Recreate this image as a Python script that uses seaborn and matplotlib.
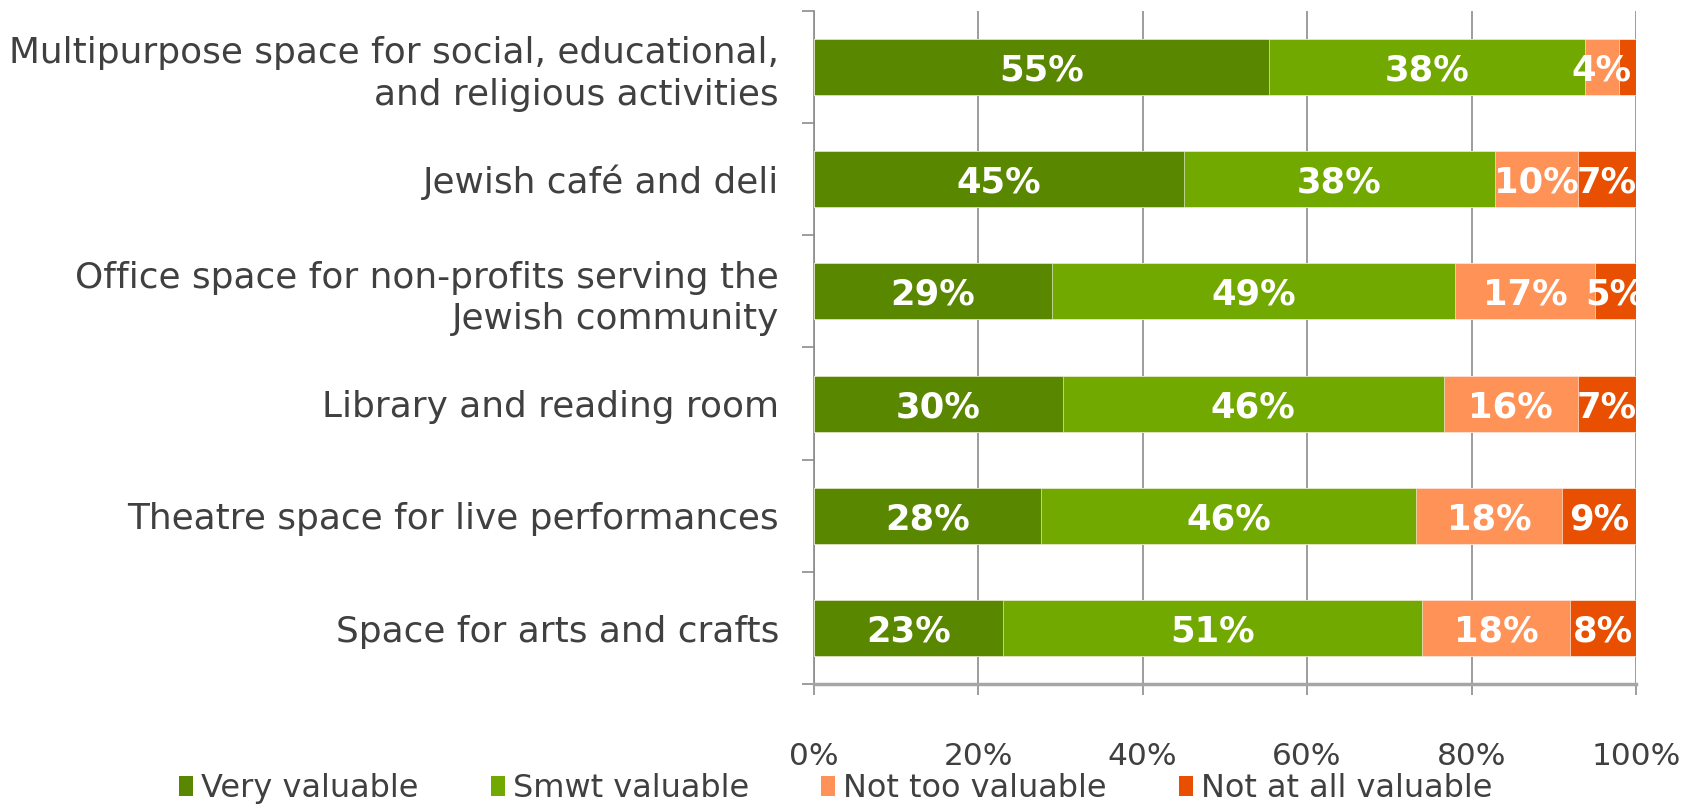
import numpy as np
import pandas as pd
import seaborn as sns
import matplotlib.pyplot as plt
from matplotlib.patches import Patch
from matplotlib.ticker import FixedLocator, PercentFormatter

# Data (percent of respondents)
categories = [
    "Multipurpose space for social, educational,\nand religious activities",
    "Jewish café and deli",
    "Office space for non-profits serving the\nJewish community",
    "Library and reading room",
    "Theatre space for live performances",
    "Space for arts and crafts",
]
very = [55.4, 45.0, 29.0, 30.3, 27.7, 23.0]
smwt = [38.4, 37.9, 49.0, 46.3, 45.6, 51.0]
not_too = [4.1, 10.0, 17.0, 16.3, 17.7, 18.0]
not_at_all = [2.1, 7.1, 5.0, 7.1, 9.0, 8.0]

series_names = ["Very valuable", "Smwt valuable", "Not too valuable", "Not at all valuable"]
colors = ["#5A8700", "#72A900", "#FF9257", "#E84F00"]
TEXT = "#404040"
GRID = "#8C8C8C"

sns.set_theme(style="white")
plt.rcParams['font.family'] = ['DejaVu Sans']

df = pd.DataFrame({"category": categories, series_names[0]: very,
                   series_names[1]: smwt, series_names[2]: not_too,
                   series_names[3]: not_at_all})
cum = df[series_names].cumsum(axis=1)

fig = plt.figure(figsize=(16.92, 8.10), dpi=100)
ax = fig.add_axes([0.4809, 0.1554, 0.4860, 0.8313])

# Stacked bars: draw cumulative totals from the right-most series back
for name, col in reversed(list(zip(series_names, colors))):
    sns.barplot(x=cum[name], y=df["category"], orient="h", color=col,
                width=0.5, saturation=1, ax=ax, zorder=3,
                edgecolor="white", linewidth=0.4)

# Segment labels
for i in range(len(categories)):
    left = 0
    for name in series_names:
        v = df[name].iloc[i]
        if v >= 3:
            ax.text(left + v / 2, i, f"{round(v):.0f}%", ha="center",
                    va="center_baseline", color="white", fontsize=25.5,
                    fontweight="bold", zorder=5)
        left += v

ax.set_xlim(0, 100)
ax.set_ylim(len(categories) - 0.5, -0.5)
ax.set_xlabel("")
ax.set_ylabel("")

ax.xaxis.set_major_locator(FixedLocator([0, 20, 40, 60, 80, 100]))
ax.xaxis.set_major_formatter(PercentFormatter(decimals=0))
ax.xaxis.grid(True, color=GRID, linewidth=1.2, zorder=0)
ax.set_axisbelow(True)

ax.tick_params(axis="x", which="major", direction="out", length=8, width=1.2,
               color=GRID, labelsize=22.5, labelcolor=TEXT, pad=34, bottom=True)
ax.yaxis.set_minor_locator(FixedLocator(np.arange(-0.5, len(categories), 1)))
ax.tick_params(axis="y", which="major", length=0, labelsize=25.8, labelcolor=TEXT, pad=25)
ax.tick_params(axis="y", which="minor", direction="out", length=9, width=1.2,
               color=GRID, left=True)
for lbl in ax.get_yticklabels():
    lbl.set_linespacing(1.28)

for side in ["top", "right"]:
    ax.spines[side].set_visible(False)
ax.spines["left"].set_color(GRID)
ax.spines["left"].set_linewidth(1.2)
ax.spines["bottom"].set_color("#A6A6A6")
ax.spines["bottom"].set_linewidth(2.5)

handles = [Patch(facecolor=c, edgecolor="none", label=n) for n, c in zip(series_names, colors)]
fig.legend(handles=handles, loc="center", bbox_to_anchor=(0.494, 0.026), ncol=4,
           frameon=False, fontsize=23, labelcolor=TEXT, handlelength=0.45,
           handleheight=0.6, handletextpad=0.25, columnspacing=2.25,
           borderpad=0.1)

fig.savefig("out.png", dpi=100)
plt.close(fig)
